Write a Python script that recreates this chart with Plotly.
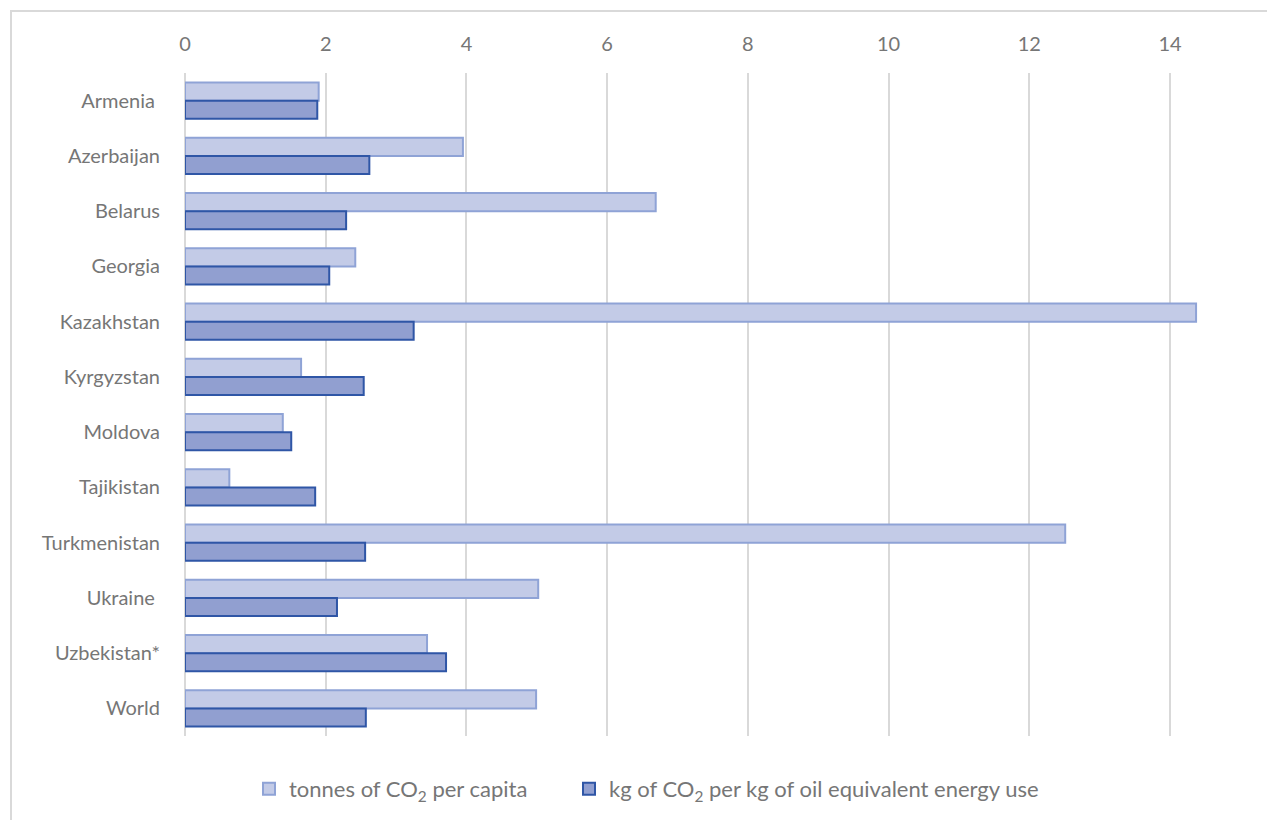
import plotly.graph_objects as go

# Countries listed top to bottom
countries = ["Armenia\u00a0", "Azerbaijan", "Belarus", "Georgia", "Kazakhstan", "Kyrgyzstan",
             "Moldova", "Tajikistan", "Turkmenistan", "Ukraine\u00a0", "Uzbekistan*", "World"]

# tonnes of CO2 per capita
co2_per_capita = [1.90, 3.95, 6.69, 2.42, 14.37, 1.65, 1.39, 0.63, 12.51, 5.02, 3.44, 4.99]

# kg of CO2 per kg of oil equivalent energy use
co2_per_energy = [1.88, 2.62, 2.29, 2.05, 3.25, 2.54, 1.51, 1.85, 2.56, 2.16, 3.71, 2.57]

x_ticks = [0, 2, 4, 6, 8, 10, 12, 14]

W, H = 1267, 820
ML, MR, MT, MB = 185, 0, 73, 84
pw, ph = W - ML - MR, H - MT - MB

fig = go.Figure()
fig.add_trace(go.Bar(
    y=countries, x=co2_per_capita, orientation="h",
    name="tonnes of CO<sub>2</sub> per capita",
    marker=dict(color="#c3cbe7", line=dict(color="#8fa3d6", width=2)),
    legend="legend",
))
fig.add_trace(go.Bar(
    y=countries, x=co2_per_energy, orientation="h",
    name="kg of CO<sub>2</sub> per kg of oil equivalent energy use",
    marker=dict(color="#919fd0", line=dict(color="#2f56a6", width=2)),
    legend="legend2",
))

font_family = "Lato, Open Sans, sans-serif"
grey = "#767676"

# chart frame
fig.add_shape(type="rect", xref="paper", yref="paper",
              x0=(11 - ML) / pw, x1=1.02, y0=-(H + 10 - MT - ph) / ph, y1=(ph + MT - 11) / ph,
              line=dict(color="#d9d9d9", width=2), fillcolor="rgba(0,0,0,0)", layer="below")

legend_style = dict(orientation="h", xanchor="left", y=-0.08, yanchor="middle",
                    font=dict(size=22, color=grey), itemwidth=30, bgcolor="rgba(0,0,0,0)")

fig.update_layout(
    width=W, height=H,
    margin=dict(l=ML, r=MR, t=MT, b=MB),
    paper_bgcolor="white", plot_bgcolor="white",
    barmode="group", bargap=0.345, bargroupgap=0,
    font=dict(family=font_family, color=grey, size=20),
    showlegend=True,
    legend=dict(x=(249 - ML) / pw, **legend_style),
    legend2=dict(x=(569 - ML) / pw, **legend_style),
    xaxis=dict(side="top", range=[0, pw / 70.36], tickvals=x_ticks,
               showgrid=True, gridcolor="#d9d9d9", gridwidth=2,
               zeroline=True, zerolinecolor="#d9d9d9", zerolinewidth=2,
               showline=False, ticks="outside", ticklen=13, tickcolor="rgba(0,0,0,0)",
               tickfont=dict(size=20, color=grey)),
    yaxis=dict(autorange="reversed", showgrid=False, showline=False, zeroline=False,
               ticks="outside", ticklen=20, tickcolor="rgba(0,0,0,0)",
               tickfont=dict(size=20, color=grey)),
)

fig.write_html("out.html")
